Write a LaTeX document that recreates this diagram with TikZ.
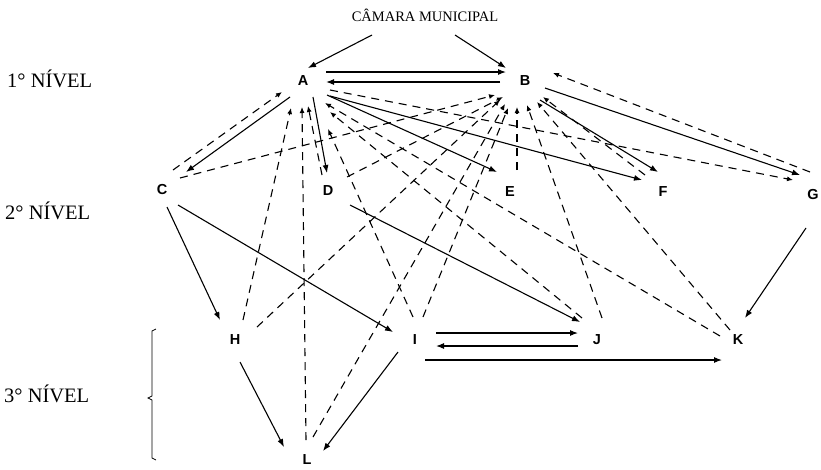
\documentclass[tikz,border=0pt]{standalone}
\usepackage{fontspec}
\setmainfont{Liberation Serif}
\newfontfamily\lettfont{Liberation Sans}
\usetikzlibrary{calc,arrows.meta}
\begin{document}
\begin{tikzpicture}[x=1pt,y=-1pt,
  lab/.style={font=\lettfont\bfseries\fontsize{14.5}{14.5}\selectfont, inner sep=0pt},
  lvl/.style={font=\fontsize{20.5}{20.5}\selectfont, anchor=west, inner sep=0pt},
  sol/.style={line width=1.1pt, -{Latex[length=8pt,width=6pt]}},
  dsh/.style={line width=1.1pt, dash pattern=on 8pt off 6pt, -{Latex[length=6pt,width=5pt]}}]
\useasboundingbox (0,0) rectangle (821,469);
% titles
\node[font=\fontsize{14.5}{14.5}\selectfont, inner sep=0pt] (CM) at (425,15) {CÂMARA MUNICIPAL};
\node[lvl] (n1) at (7,79) {1° NÍVEL};
\node[lvl] (n2) at (5,211) {2° NÍVEL};
\node[lvl] (n3) at (4,394) {3° NÍVEL};
% nodes
\node[lab] (A) at (303,81) {A};
\node[lab] (B) at (525,81) {B};
\node[lab] (C) at (162,190) {C};
\node[lab] (D) at (328,191) {D};
\node[lab] (E) at (510,192) {E};
\node[lab] (F) at (663,192) {F};
\node[lab] (G) at (813,195) {G};
\node[lab] (H) at (235,340) {H};
\node[lab] (I) at (415,340) {I};
\node[lab] (J) at (597,340) {J};
\node[lab] (K) at (738,340) {K};
\node[lab] (L) at (307,460) {L};
% bracket
\draw[line width=0.8pt] (156,329) -- (152,331) -- (152,396) -- (148,398) -- (152,400) -- (152,458) -- (156,460);
% solid connectors
\draw[sol] ($(CM)+(-53,20)$) -- ($(A)+(5,-13)$);
\draw[sol] ($(CM)+(30,20)$) -- ($(B)+(-19,-13)$);
\draw[sol] ($(A)+(23,-9)$) -- ($(B)+(-19,-9)$);
\draw[sol] ($(B)+(-25,1)$) -- ($(A)+(23,1)$);
\draw[sol] ($(A)+(-13,16)$) -- ($(C)+(24,-18)$);
\draw[sol] ($(A)+(10,16)$) -- ($(D)+(-1,-18)$);
\draw[sol] ($(A)+(24,14)$) -- ($(E)+(-13,-20)$);
\draw[sol] ($(A)+(27,15)$) -- ($(F)+(-21,-12)$);
\draw[sol] ($(B)+(15,19)$) -- ($(F)+(-5,-20)$);
\draw[sol] ($(B)+(20,7)$) -- ($(G)+(-13,-20)$);
\draw[sol] ($(C)+(5,17)$) -- ($(H)+(-15,-20)$);
\draw[sol] ($(C)+(16,15)$) -- ($(I)+(-22,-8)$);
\draw[sol] ($(D)+(22,14)$) -- ($(J)+(-17,-18)$);
\draw[sol] ($(G)+(-7,33)$) -- ($(K)+(7,-22)$);
\draw[sol] ($(H)+(5,22)$) -- ($(L)+(-23,-13)$);
\draw[sol] ($(I)+(-17,12)$) -- ($(L)+(16,-9)$);
\draw[sol] ($(I)+(21,-7)$) -- ($(J)+(-19,-7)$);
\draw[sol] ($(J)+(-19,6)$) -- ($(I)+(21,6)$);
\draw[sol] ($(I)+(10,20)$) -- ($(K)+(-16,20)$);
% dashed connectors
\draw[dsh] ($(C)+(11,-20)$) -- ($(A)+(-21,11)$);
\draw[dsh] ($(C)+(18,-12)$) -- ($(B)+(-30,14)$);
\draw[dsh] ($(H)+(8,-20)$) -- ($(A)+(-12,27)$);
\draw[dsh] ($(H)+(22,-13)$) -- ($(B)+(-25,19)$);
\draw[dsh] ($(L)+(-1,-20)$) -- ($(A)+(-1,26)$);
\draw[dsh] ($(L)+(6,-23)$) -- ($(B)+(-20,23)$);
\draw[dsh] ($(D)+(-6,-16)$) -- ($(A)+(5,25)$);
\draw[dsh] ($(D)+(19,-14)$) -- ($(B)+(-22,16)$);
\draw[dsh] ($(I)+(-2,-23)$) -- ($(A)+(25,48)$);
\draw[dsh] ($(I)+(8,-23)$) -- ($(B)+(-17,27)$);
\draw[dsh] ($(J)+(-15,-22)$) -- ($(A)+(27,31)$);
\draw[dsh] ($(J)+(5,-22)$) -- ($(B)+(2,24)$);
\draw[dsh] ($(K)+(-18,-4)$) -- ($(A)+(22,22)$);
\draw[dsh] ($(K)+(-8,-10)$) -- ($(B)+(12,21)$);
\draw[dsh] ($(E)+(7,-22)$) -- ($(B)+(-8,26)$);
\draw[dsh] ($(F)+(-18,-17)$) -- ($(B)+(18,16)$);
\draw[dsh] ($(G)+(-3,-23)$) -- ($(B)+(28,-8)$);
\draw[dsh] ($(A)+(27,9)$) -- ($(G)+(-20,-15)$);
\end{tikzpicture}
\end{document}
